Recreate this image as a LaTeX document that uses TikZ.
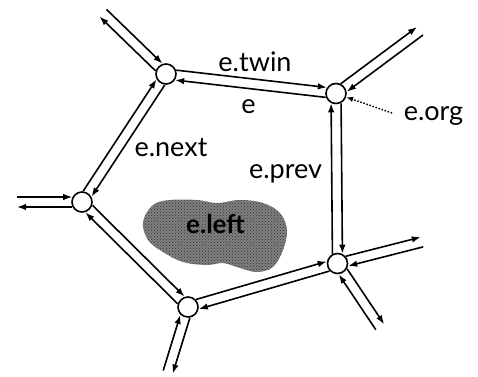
\documentclass[tikz,border=0pt]{standalone}
\usepackage{fontspec}
\setmainfont{Lato}
\usetikzlibrary{calc,arrows.meta,patterns}
\newcommand\hedge[2]{\draw[he] ($(#1)!9.8pt!(#2)!5pt!90:(#2)$) -- ($(#2)!9.8pt!(#1)!5pt!-90:(#1)$);}
\newcommand\hout[2]{\draw[he] ($(#1)!9.8pt!(#2)!5pt!90:(#2)$) -- ($(#2)!5pt!-90:(#1)$);}
\newcommand\hin[2]{\draw[he] ($(#1)!5pt!90:(#2)$) -- ($(#2)!9.8pt!(#1)!5pt!-90:(#1)$);}
\begin{document}
\begin{tikzpicture}[x=1pt,y=-1pt,
  vtx/.style={circle,draw,line width=1.6pt,fill=white,minimum size=20pt,inner sep=0pt},
  he/.style={line width=1.6pt,-{Latex[length=9pt,width=6.5pt]}},
  lbl/.style={anchor=base,font=\fontsize{27}{27}\selectfont,inner sep=0pt}]
\useasboundingbox (0,0) rectangle (478,376);
% face blob
\path[fill=black!50] plot[smooth cycle,tension=0.6] coordinates {
 (143,222) (153,205) (170,200) (197,200) (217,203) (240,200) (263,203)
 (280,213) (287,230) (283,250) (273,267) (257,272) (240,268) (223,263)
 (207,265) (183,262) (163,252) (148,240)};
\path[pattern=crosshatch dots,pattern color=black!80] plot[smooth cycle,tension=0.6] coordinates {
 (143,222) (153,205) (170,200) (197,200) (217,203) (240,200) (263,203)
 (280,213) (287,230) (283,250) (273,267) (257,272) (240,268) (223,263)
 (207,265) (183,262) (163,252) (148,240)};
\node[lbl,font=\fontsize{26}{26}\selectfont\bfseries] (eleft) at (215.5,233) {e.left};
% vertices
\node[vtx] (A) at (166,74) {};
\node[vtx] (B) at (336,93.5) {};
\node[vtx] (C) at (82,202) {};
\node[vtx] (D) at (337.5,263.5) {};
\node[vtx] (E) at (188,307) {};
% outer free ends
\coordinate (xa) at (103,13);
\coordinate (xb) at (420,31);
\coordinate (xc) at (17,202);
\coordinate (xd1) at (422,242);
\coordinate (xd2) at (380,327);
\coordinate (xe) at (168,372);
% inner edges
\hedge{A}{B} \hedge{B}{A}
\hedge{A}{C} \hedge{C}{A}
\hedge{C}{E} \hedge{E}{C}
\hedge{E}{D} \hedge{D}{E}
\hedge{D}{B} \hedge{B}{D}
% outer edges
\hout{A}{xa} \hin{xa}{A}
\hout{B}{xb} \hin{xb}{B}
\hout{C}{xc} \hin{xc}{C}
\hout{D}{xd1} \hin{xd1}{D}
\hout{D}{xd2} \hin{xd2}{D}
\hout{E}{xe} \hin{xe}{E}
% labels
\node[lbl] (ltwin) at (255,71.7) {e.twin};
\node[lbl] (le) at (248.5,113) {e};
\node[lbl] (lnext) at (171,156.7) {e.next};
\node[lbl] (lprev) at (285.5,178) {e.prev};
\node[lbl] (lorg) at (433.5,120) {e.org};
\coordinate (ds) at (392,113);
\draw[line width=1.5pt,dash pattern=on 1.5pt off 1.7pt,-{Latex[length=7pt,width=5.5pt]}] (ds) -- (B);
\end{tikzpicture}
\end{document}
